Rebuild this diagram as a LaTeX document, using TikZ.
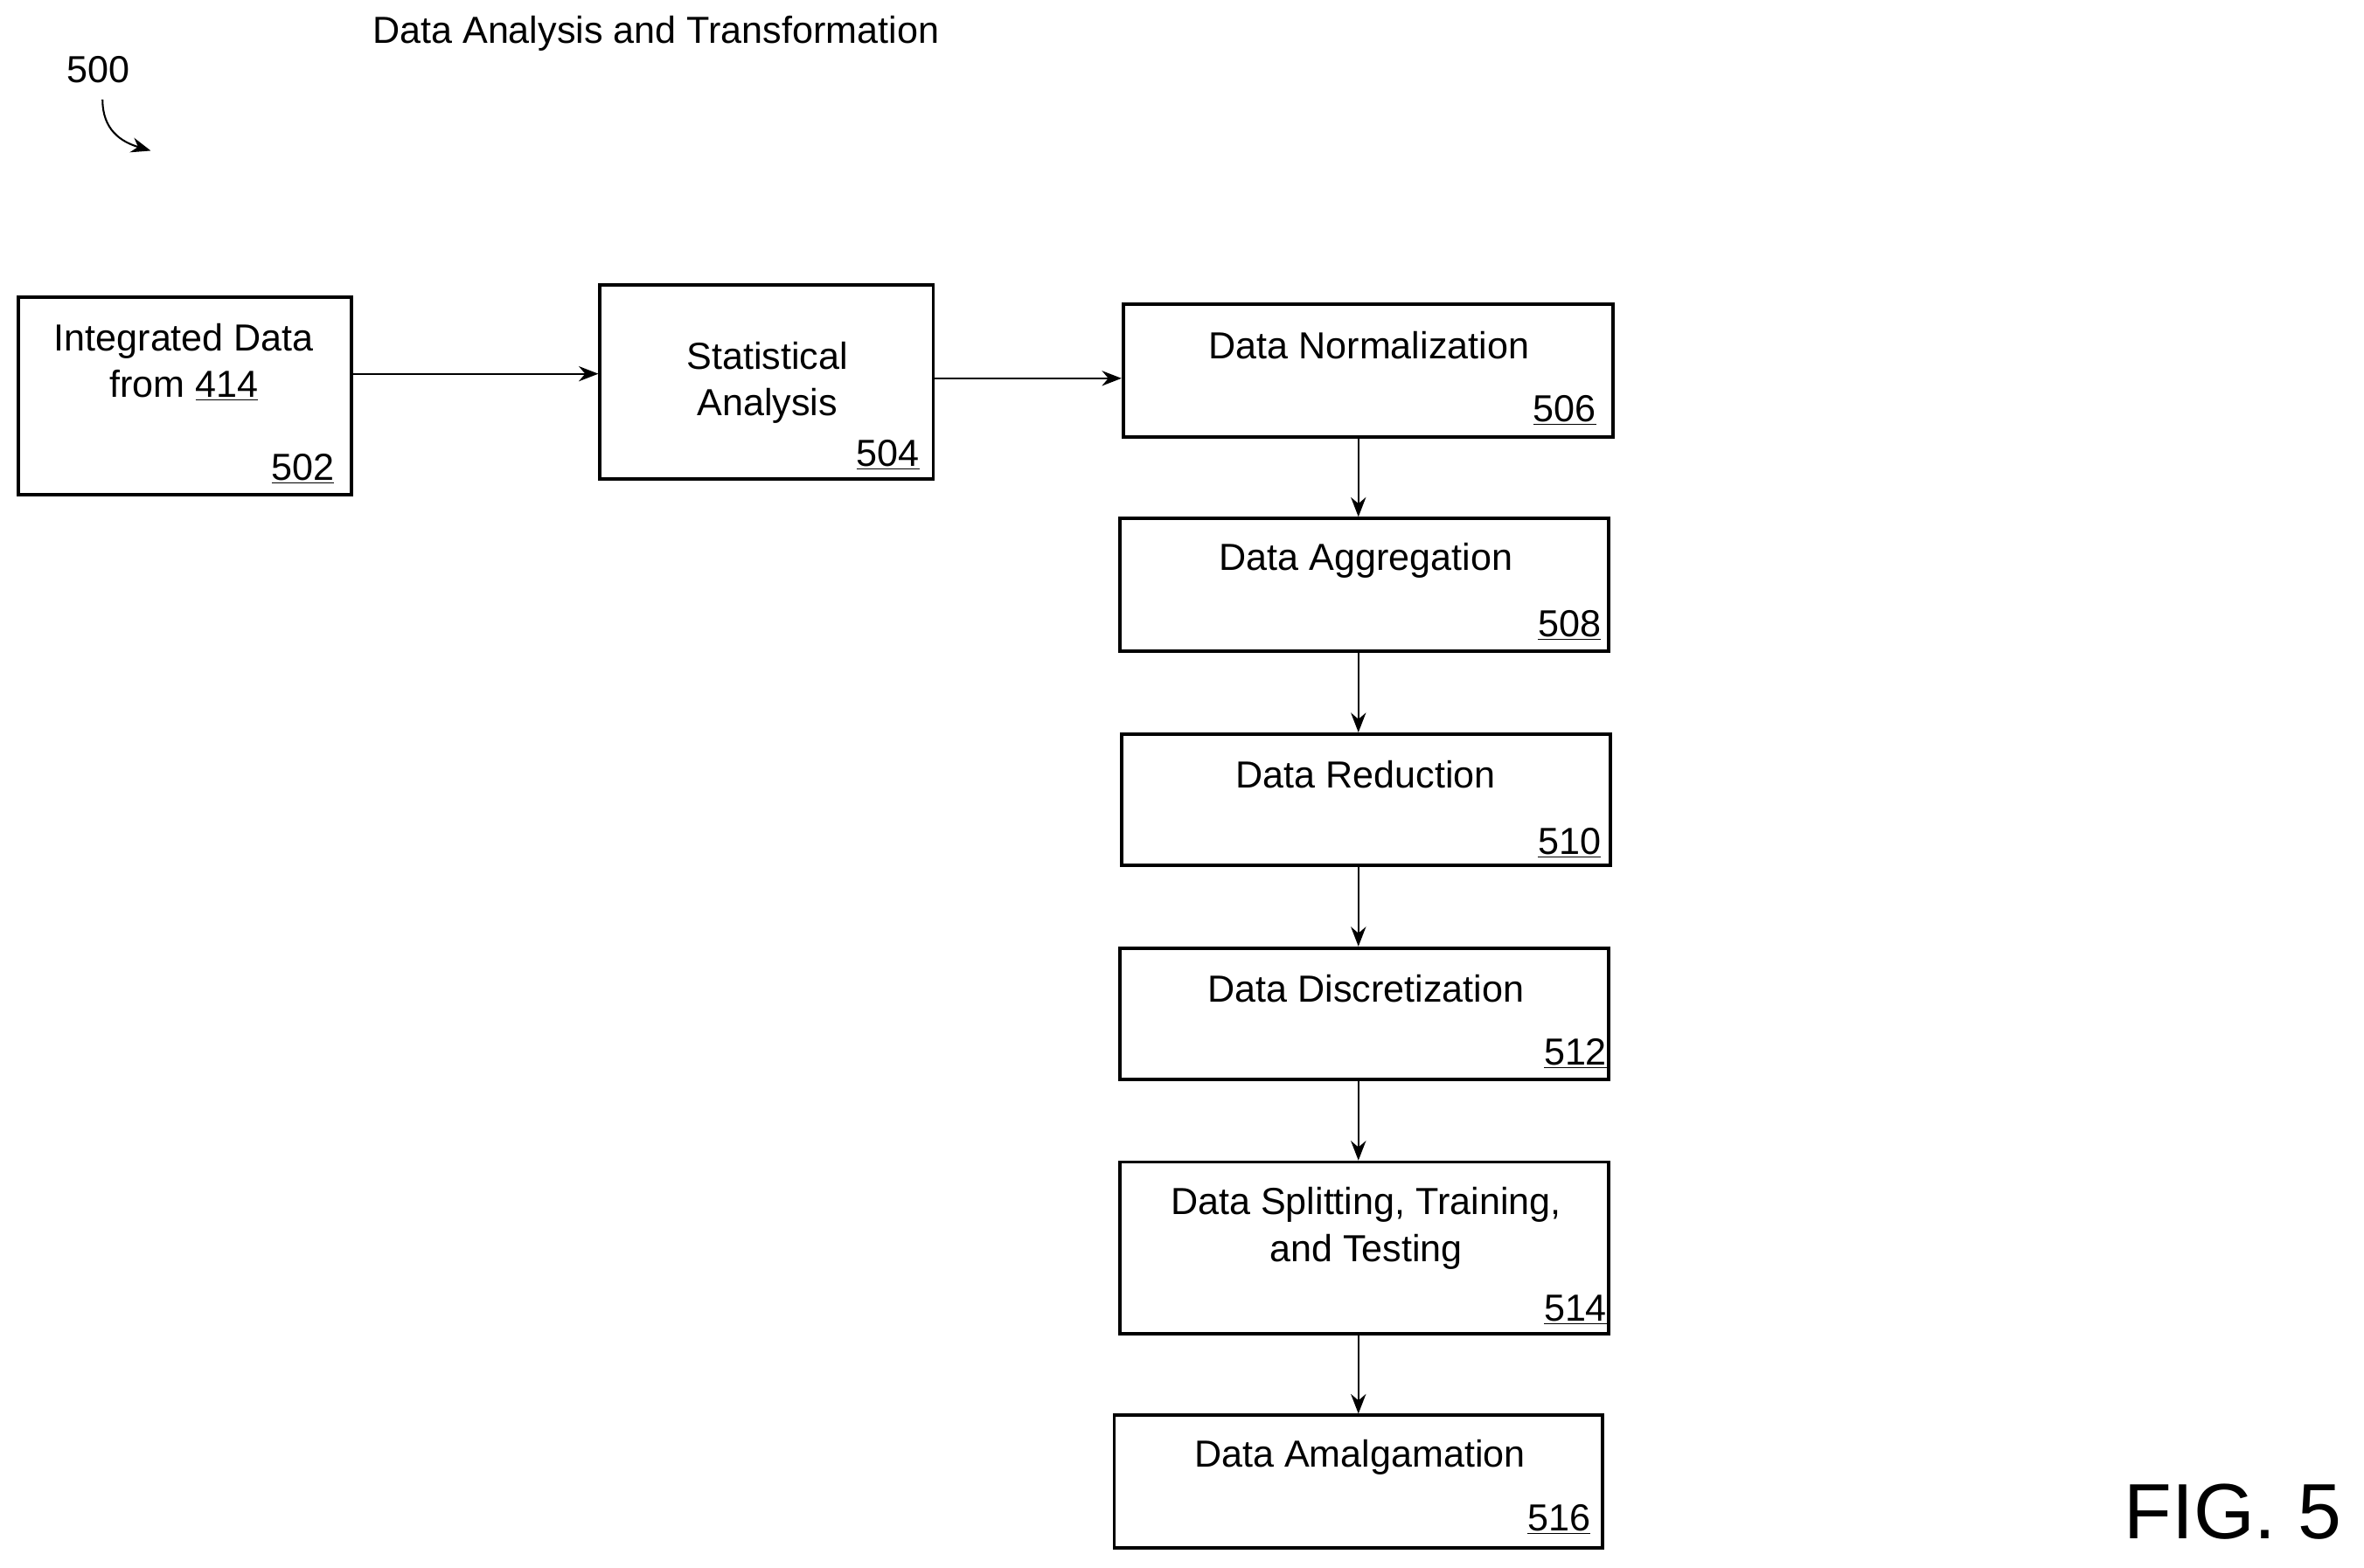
\documentclass[tikz,border=0pt]{standalone}
\usepackage{fontspec}
\setmainfont{Liberation Sans}
\usetikzlibrary{arrows.meta,positioning}
\begin{document}
\begin{tikzpicture}[x=1pt,y=-1pt,
  box/.style={draw, line width=2.2pt, inner sep=0pt},
  txt/.style={font=\fontsize{25}{31}\selectfont, align=center, inner sep=0pt},
  num/.style={font=\fontsize{25}{31}\selectfont, inner sep=0pt, anchor=south east},
  flow/.style={-{Stealth[length=13pt,width=10pt]}, line width=1.2pt}]
\useasboundingbox (0,0) rectangle (1568,1040);

% Header
\node[txt] (title) at (435,22) {Data Analysis and Transformation};
\node[txt] (fig500) at (65,46) {500};
\coordinate (hook) at (100,100);
\draw[flow] (68,66) .. controls (68,86) and (80,94) .. (hook);
\node[font=\fontsize{52}{60}\selectfont, inner sep=0pt] (figlabel) at (1481,1003) {FIG. 5};

% Boxes
\node[box, minimum width=221, minimum height=131] (n502) at (122.5,262.5) {};
\node[box, minimum width=221, minimum height=129] (n504) at (508.5,253.5) {};
\node[box, minimum width=325, minimum height=88] (n506) at (907.5,246) {};
\node[box, minimum width=324, minimum height=88] (n508) at (905,388) {};
\node[box, minimum width=324, minimum height=87] (n510) at (906,530.5) {};
\node[box, minimum width=324, minimum height=87] (n512) at (905,672.5) {};
\node[box, minimum width=324, minimum height=114] (n514) at (905,828) {};
\node[box, minimum width=324, minimum height=88] (n516) at (901,983) {};

% Texts
\node[txt] (t502) at (122,240) {Integrated Data\\from \underline{414}};
\node[num] (l502) at (222,321) {\underline{502}};
\node[txt] (t504) at (509,254) {Statistical\\Analysis};
\node[num] (l504) at (610,312) {\underline{504}};
\node[txt] (t506) at (908,229) {Data Normalization};
\node[num] (l506) at (1059,282) {\underline{506}};
\node[txt] (t508) at (906,372) {Data Aggregation};
\node[num] (l508) at (1062,425) {\underline{508}};
\node[txt] (t510) at (906,514) {Data Reduction};
\node[num] (l510) at (1062,569) {\underline{510}};
\node[txt] (t512) at (906,656) {Data Discretization};
\node[num] (l512) at (1066,709) {\underline{512}};
\node[txt] (t514) at (906,815) {Data Splitting, Training,\\and Testing};
\node[num] (l514) at (1066,879) {\underline{514}};
\node[txt] (t516) at (902,967) {Data Amalgamation};
\node[num] (l516) at (1055,1018) {\underline{516}};

% Connectors
\draw[flow] (n502.east |- 0,248) -- (n504.west |- 0,248);
\draw[flow] (n504.east |- 0,251) -- (n506.west |- 0,251);
\draw[flow] (n506.south -| 901,0) -- (n508.north -| 901,0);
\draw[flow] (n508.south -| 901,0) -- (n510.north -| 901,0);
\draw[flow] (n510.south -| 901,0) -- (n512.north -| 901,0);
\draw[flow] (n512.south -| 901,0) -- (n514.north -| 901,0);
\draw[flow] (n514.south -| 901,0) -- (n516.north -| 901,0);
\end{tikzpicture}
\end{document}
